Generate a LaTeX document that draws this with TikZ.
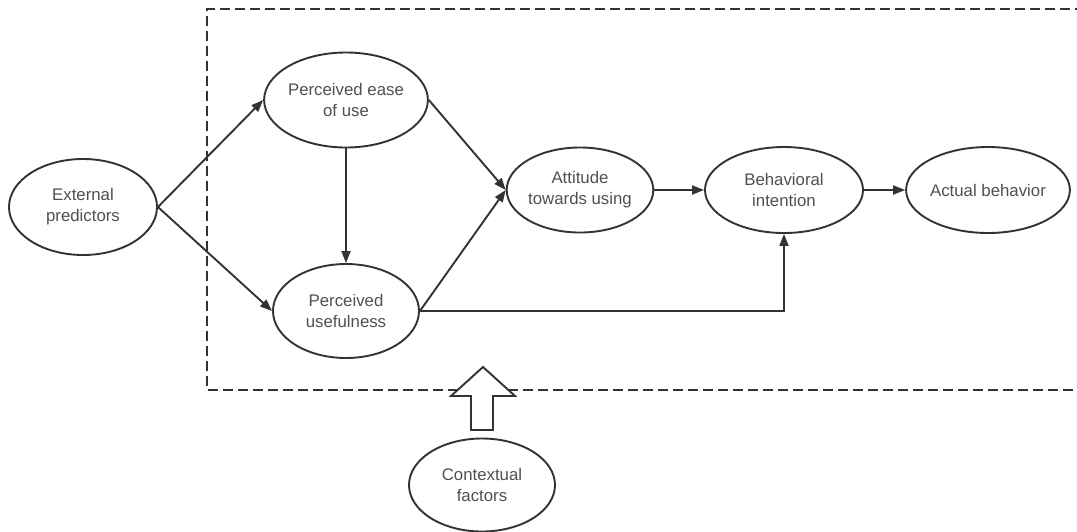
\documentclass[tikz,border=0pt]{standalone}
\usepackage{fontspec}
\setmainfont{Liberation Sans}
\usetikzlibrary{shapes.geometric,arrows.meta}
\definecolor{ln}{HTML}{333333}
\definecolor{tx}{HTML}{505050}
\begin{document}
\begin{tikzpicture}[x=1pt,y=-1pt,
  ell/.style={ellipse,draw=ln,line width=1.9pt,inner sep=0pt,align=center,text=tx,
    font=\fontsize{16.8}{21}\selectfont},
  arr/.style={draw=ln,line width=1.9pt,-{Triangle[length=12pt,width=9pt]}},
  frame/.style={draw=ln,line width=1.8pt,dash pattern=on 10pt off 5pt},
  blockarrow/.style={draw=ln,line width=1.9pt,fill=white,line join=miter}]
\useasboundingbox (0,0) rectangle (1077,531);
% dashed frame (open to the right)
\draw[frame] (1085,9) -- (207,9) -- (207,390) -- (1085,390);
% nodes
\node[ell,minimum width=148pt,minimum height=96pt] (ext) at (83,207) {External\\predictors};
\node[ell,minimum width=146pt,minimum height=95pt] (peou) at (346,100) {Perceived ease\\of use};
\node[ell,minimum width=146pt,minimum height=94pt] (pu) at (346,311) {Perceived\\usefulness};
\node[ell,minimum width=145pt,minimum height=85pt] (att) at (580,190) {Attitude\\towards using};
\node[ell,minimum width=158pt,minimum height=86pt] (bi) at (784,190) {Behavioral\\intention};
\node[ell,minimum width=153pt,minimum height=86pt] (ab) at (988,190) {Actual behavior};
\node[ell,minimum width=146pt,minimum height=93pt] (ctx) at (482,485) {Contextual\\factors};
% connectors
\draw[arr] (ext.east) -- (peou.west);
\draw[arr] (ext.east) -- (pu.west);
\draw[arr] (peou.south) -- (pu.north);
\draw[arr] (peou.east) -- (att.west);
\draw[arr] (pu.east) -- (att.west);
\draw[arr] (att.east) -- (bi.west);
\draw[arr] (bi.east) -- (ab.west);
\draw[arr] (pu.east) -| (bi.south);
% block arrow from contextual factors
\draw[blockarrow] (483,367) -- (515,396) -- (493,396) -- (493,430) -- (471,430) -- (471,396) -- (451,396) -- cycle;
\end{tikzpicture}
\end{document}
